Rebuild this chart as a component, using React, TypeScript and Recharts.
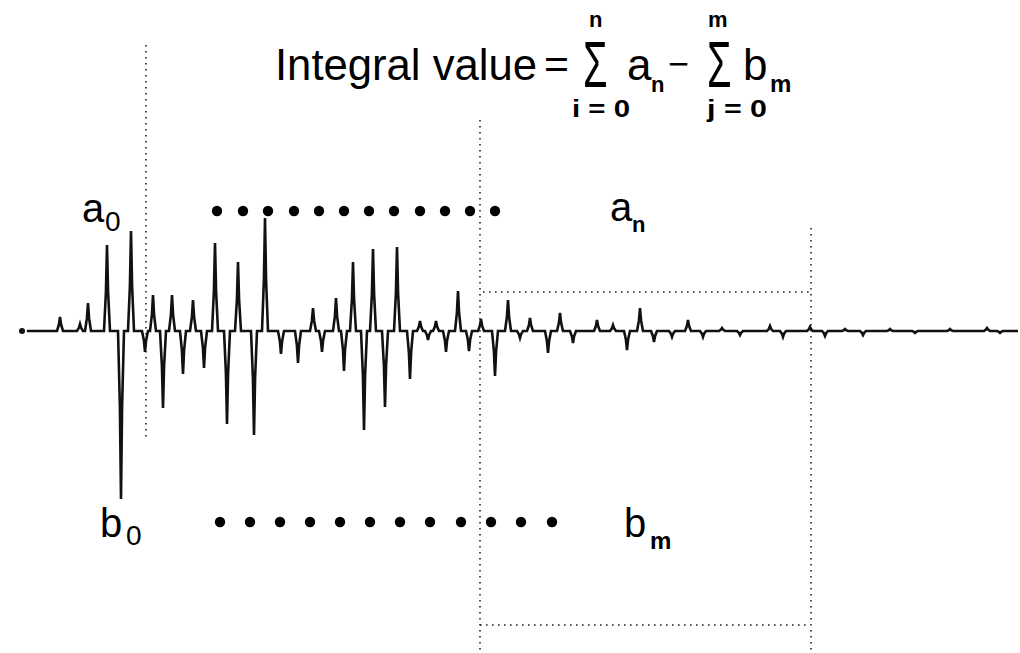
import React from 'react';
import { ComposedChart, Line, Scatter, XAxis, YAxis, ReferenceLine } from 'recharts';

// Sample positions (time axis) and signed amplitudes of the pulse train.
const spikeTimes = [
  60, 80, 88, 107, 121, 131, 145, 153, 163, 172, 183, 193, 204, 215, 227, 238, 254, 265,
  281, 298, 313, 322, 336, 344, 353, 364, 373, 385, 397, 410, 420, 428, 436, 446, 458, 469,
  481, 495, 508, 520, 530, 548, 560, 573, 597, 613, 627, 640, 654, 672, 688, 703, 722, 740,
  770, 783, 810, 825, 845, 863, 890, 915, 950, 987, 1000,
];
const spikeValues = [
  14, 7, 28, 86, -168, 100, -21, 36, -77, 36, -43, 31, -37, 88, -93, 69, -104, 113,
  -23, -32, 23, -21, 33, -40, 69, -99, 82, -76, 84, -48, 10, -9, 10, -21, 40, -20,
  12, -45, 31, -7, 13, -22, 18, -12, 11, 6, -19, 23, -11, -6, 11, -6, 3, -4,
  5, -6, 4, -5, 2, -4, 2, -2, 2, 3, -2,
];
const traceStart = 22;
const traceEnd = 1018;

// Positive terms a0..an and negative terms b0..bm, shown as rows of markers.
const aTermTimes = [217, 243, 268, 294, 319, 344, 369, 394, 420, 445, 470, 495];
const aTermLevel = 120;
const bTermTimes = [220, 250, 280, 310, 340, 370, 400, 430, 461, 491, 521, 552];
const bTermLevel = -191;

// Dotted guide segments: [t1, v1, t2, v2]
const guides = [
  [146, 286, 146, -109],
  [480, 211, 480, -322],
  [483, 39, 812, 39],
  [811, 103, 811, -322],
  [480, -294, 808, -294],
];

// Each pulse is drawn as a narrow tapered spike: wide body near the baseline, thin tip.
const BASE_HALF = 3;
const BODY_HALF = 1.1;
const BODY_FRACTION = 0.45;
const waveform: { t: number; v: number }[] = [{ t: traceStart, v: 0 }];
spikeTimes.forEach((t, i) => {
  const v = spikeValues[i];
  waveform.push({ t: t - BASE_HALF, v: 0 });
  waveform.push({ t: t - BODY_HALF, v: v * BODY_FRACTION });
  waveform.push({ t, v });
  waveform.push({ t: t + BODY_HALF, v: v * BODY_FRACTION });
  waveform.push({ t: t + BASE_HALF, v: 0 });
});
waveform.push({ t: traceEnd, v: 0 });

const aTerms = aTermTimes.map((t) => ({ t, v: aTermLevel }));
const bTerms = bTermTimes.map((t) => ({ t, v: bTermLevel }));

const W = 1020;
const H = 653;
const FONT = '"Liberation Sans", Arial, sans-serif';
const SIGMA = '\u03A3';

const Dot = (props: any) => <circle cx={props.cx} cy={props.cy} r={5.2} fill="#000" />;

// Summation sign, narrowed horizontally like the rest of the formula.
const Sigma = ({ x, y }: { x: number; y: number }) => (
  <g transform={`translate(${x},${y}) scale(0.62,1)`}>
    <text x={0} y={0} fontSize={64}>{SIGMA}</text>
  </g>
);

export default function App() {
  return (
    <div style={{ position: 'absolute', left: 0, top: 0, width: W, height: H, background: '#fff' }}>
      <ComposedChart width={W} height={H} margin={{ top: 0, right: 0, bottom: 0, left: 0 }}>
        <XAxis type="number" dataKey="t" domain={[0, 1020]} hide allowDataOverflow />
        <YAxis type="number" dataKey="v" domain={[-322, 331]} hide allowDataOverflow />
        {guides.map((g, i) => (
          <ReferenceLine
            key={i}
            segment={[{ x: g[0], y: g[1] }, { x: g[2], y: g[3] }]}
            stroke="#222"
            strokeWidth={1.6}
            strokeDasharray="1.6 4.4"
            ifOverflow="visible"
          />
        ))}
        <Line
          data={waveform}
          dataKey="v"
          type="linear"
          dot={false}
          stroke="#111"
          strokeWidth={2.6}
          isAnimationActive={false}
        />
        <Scatter data={aTerms} dataKey="v" shape={Dot} isAnimationActive={false} />
        <Scatter data={bTerms} dataKey="v" shape={Dot} isAnimationActive={false} />
      </ComposedChart>
      <svg
        width={W}
        height={H}
        style={{ position: 'absolute', left: 0, top: 0, pointerEvents: 'none' }}
        fontFamily={FONT}
        fill="#000"
      >
        <text x={275} y={80} fontSize={44} textLength={262} lengthAdjust="spacingAndGlyphs">Integral value</text>
        <text x={544} y={78} fontSize={40} textLength={25} lengthAdjust="spacingAndGlyphs">=</text>
        <Sigma x={583} y={87} />
        <text x={589} y={27} fontSize={22} fontWeight="bold">n</text>
        <text x={572} y={117} fontSize={24} fontWeight="bold" textLength={58} lengthAdjust="spacingAndGlyphs">i = 0</text>
        <text x={627} y={80} fontSize={44}>a</text>
        <text x={651} y={92} fontSize={22} fontWeight="bold">n</text>
        <text x={668} y={76} fontSize={36}>−</text>
        <Sigma x={707} y={87} />
        <text x={708} y={27} fontSize={22} fontWeight="bold">m</text>
        <text x={707} y={117} fontSize={24} fontWeight="bold" textLength={60} lengthAdjust="spacingAndGlyphs">j = 0</text>
        <text x={743} y={80} fontSize={44}>b</text>
        <text x={770} y={92} fontSize={24} fontWeight="bold">m</text>

        <text x={82} y={222} fontSize={40}>a</text>
        <text x={105} y={231} fontSize={28}>0</text>
        <text x={610} y={221} fontSize={40}>a</text>
        <text x={632} y={232} fontSize={22} fontWeight="bold">n</text>
        <text x={100} y={537} fontSize={40}>b</text>
        <text x={126} y={545} fontSize={28}>0</text>
        <text x={624} y={537} fontSize={40}>b</text>
        <text x={650} y={549} fontSize={24} fontWeight="bold">m</text>
      </svg>
    </div>
  );
}
